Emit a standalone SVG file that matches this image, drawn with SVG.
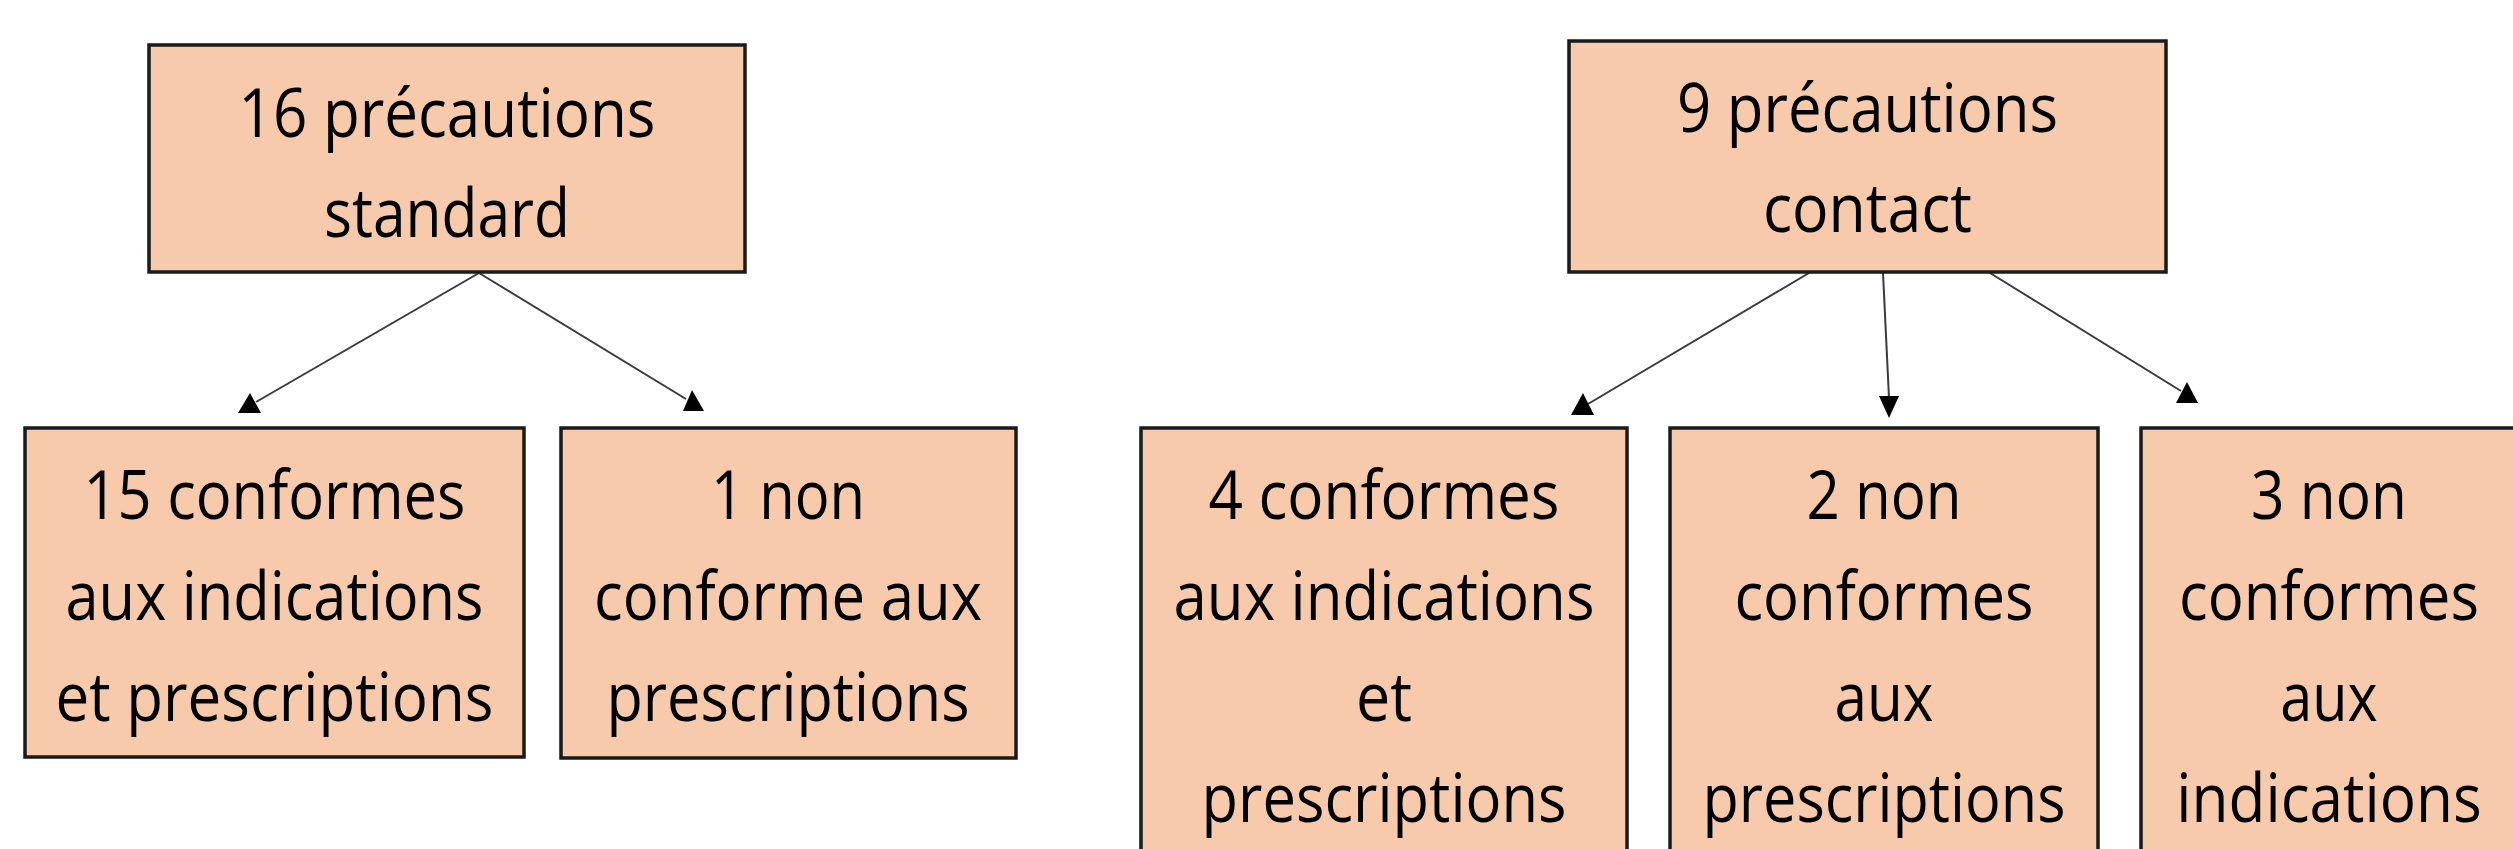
<svg xmlns="http://www.w3.org/2000/svg" width="2513" height="849" viewBox="0 0 2513 849">
<style>
.box{fill:#F7CAAC;stroke:#1a1a1a;stroke-width:3.5}
.t{font-family:"Open Sans","Liberation Sans",sans-serif;font-size:68px;fill:#000;text-anchor:middle}
.ln{stroke:#3a3a3a;stroke-width:2;fill:none}
.ah{fill:#000}
</style>
<rect width="2513" height="849" fill="#fff"/>
<g id="connectors">
<line class="ln" x1="479" y1="273" x2="256" y2="402"/>
<polygon class="ah" points="250,393 261,413 238,413"/>
<line class="ln" x1="479" y1="273" x2="686" y2="399"/>
<polygon class="ah" points="692,390 704,411 683,411"/>
<line class="ln" x1="1809" y1="273" x2="1588" y2="404"/>
<polygon class="ah" points="1583,393 1594,415 1571,415"/>
<line class="ln" x1="1883" y1="273" x2="1889" y2="398"/>
<polygon class="ah" points="1879,396 1899,396 1889,418"/>
<line class="ln" x1="1990" y1="273" x2="2181" y2="391"/>
<polygon class="ah" points="2187,382 2198,403 2176,403"/>
</g>
<g id="n1">
<rect class="box" x="149" y="45" width="596" height="227"/>
<text class="t" x="447" y="137" textLength="417" lengthAdjust="spacingAndGlyphs">16 précautions</text>
<text class="t" x="447" y="237" textLength="246" lengthAdjust="spacingAndGlyphs">standard</text>
</g>
<g id="n2">
<rect class="box" x="25" y="428" width="499" height="329"/>
<text class="t" x="274.5" y="519" textLength="382" lengthAdjust="spacingAndGlyphs">15 conformes</text>
<text class="t" x="274.5" y="620" textLength="418" lengthAdjust="spacingAndGlyphs">aux indications</text>
<text class="t" x="274.5" y="721" textLength="438" lengthAdjust="spacingAndGlyphs">et prescriptions</text>
</g>
<g id="n3">
<rect class="box" x="561" y="428" width="455" height="330"/>
<text class="t" x="788" y="519" textLength="154" lengthAdjust="spacingAndGlyphs">1 non</text>
<text class="t" x="788" y="620" textLength="388" lengthAdjust="spacingAndGlyphs">conforme aux</text>
<text class="t" x="788" y="721" textLength="363" lengthAdjust="spacingAndGlyphs">prescriptions</text>
</g>
<g id="n4">
<rect class="box" x="1569" y="41" width="597" height="231"/>
<text class="t" x="1867.5" y="132" textLength="381" lengthAdjust="spacingAndGlyphs">9 précautions</text>
<text class="t" x="1867.5" y="232" textLength="209" lengthAdjust="spacingAndGlyphs">contact</text>
</g>
<g id="n5">
<rect class="box" x="1141" y="428" width="486" height="500"/>
<text class="t" x="1384" y="519" textLength="351" lengthAdjust="spacingAndGlyphs">4 conformes</text>
<text class="t" x="1384" y="620" textLength="421" lengthAdjust="spacingAndGlyphs">aux indications</text>
<text class="t" x="1384" y="721" textLength="56" lengthAdjust="spacingAndGlyphs">et</text>
<text class="t" x="1384" y="822" textLength="365" lengthAdjust="spacingAndGlyphs">prescriptions</text>
</g>
<g id="n6">
<rect class="box" x="1670" y="428" width="428" height="500"/>
<text class="t" x="1884" y="519" textLength="155" lengthAdjust="spacingAndGlyphs">2 non</text>
<text class="t" x="1884" y="620" textLength="299" lengthAdjust="spacingAndGlyphs">conformes</text>
<text class="t" x="1884" y="721" textLength="99" lengthAdjust="spacingAndGlyphs">aux</text>
<text class="t" x="1884" y="822" textLength="363" lengthAdjust="spacingAndGlyphs">prescriptions</text>
</g>
<g id="n7">
<rect class="box" x="2141" y="428" width="377" height="500"/>
<g transform="translate(2329,0) scale(0.885,1)">
<text class="t" x="0" y="519" textLength="176" lengthAdjust="spacingAndGlyphs">3 non</text>
<text class="t" x="0" y="620" textLength="339" lengthAdjust="spacingAndGlyphs">conformes</text>
<text class="t" x="0" y="721" textLength="110" lengthAdjust="spacingAndGlyphs">aux</text>
<text class="t" x="0" y="822" textLength="345" lengthAdjust="spacingAndGlyphs">indications</text>
</g>
</g>
</svg>
